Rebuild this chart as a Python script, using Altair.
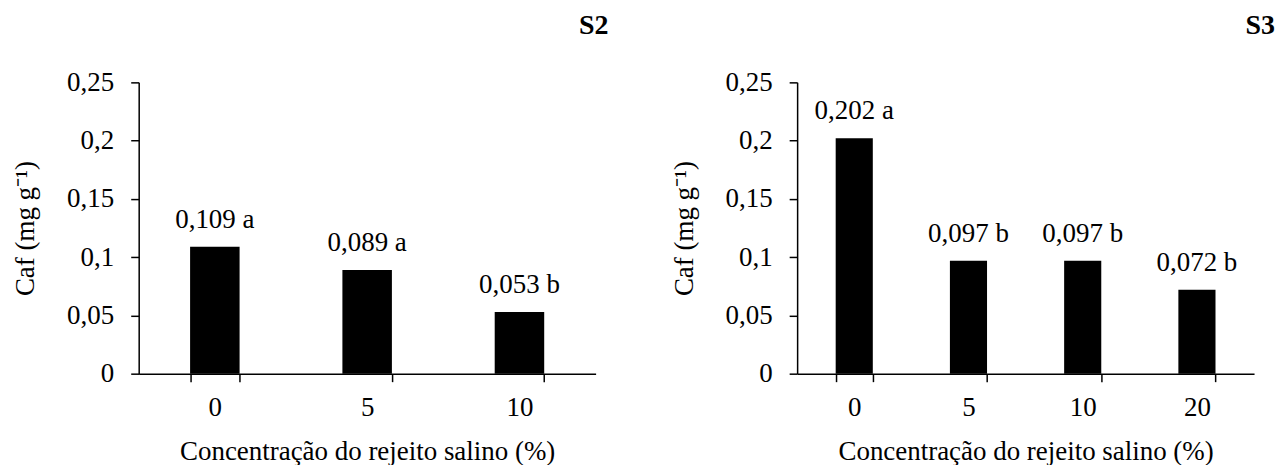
import altair as alt
import pandas as pd

FONT = "Liberation Serif"

s2_cats = ["0", "5", "10"]
s2_vals = [0.109, 0.089, 0.053]
s2_text = ["0,109 a", "0,089 a", "0,053 b"]

s3_cats = ["0", "5", "10", "20"]
s3_vals = [0.202, 0.097, 0.097, 0.072]
s3_text = ["0,202 a", "0,097 b", "0,097 b", "0,072 b"]

y_ticks = [0, 0.05, 0.1, 0.15, 0.2, 0.25]


def panel(cats, vals, texts, name, title_dx):
    df = pd.DataFrame({"c": cats, "v": vals, "t": texts})
    x = alt.X(
        "c:N",
        sort=cats,
        scale=alt.Scale(paddingInner=0.675, paddingOuter=0.3375),
        axis=alt.Axis(
            title="Concentração do rejeito salino (%)",
            labelAngle=0,
            tickBand="extent",
            labelPadding=13,
            titlePadding=18,
        ),
    )
    y = alt.Y(
        "v:Q",
        scale=alt.Scale(domain=[0, 0.25], nice=False),
        axis=alt.Axis(
            values=y_ticks,
            labelExpr="replace(format(datum.value, '.2~f'), '.', ',')",
            title="Caf (mg g⁻¹)",
            grid=False,
            labelPadding=17,
            titlePadding=27,
        ),
    )
    base = alt.Chart(df).encode(x=x, y=y)
    bars = base.mark_bar(color="black")
    labels = base.mark_text(
        baseline="alphabetic", dy=-19, fontSize=27, font=FONT, color="black"
    ).encode(text="t:N")
    return alt.layer(bars, labels).properties(
        width=458,
        height=292,
        title=alt.TitleParams(
            name,
            anchor="end",
            frame="group",
            fontSize=28,
            fontWeight="bold",
            font=FONT,
            color="black",
            dx=title_dx,
            offset=28,
        ),
    )


chart = (
    alt.hconcat(
        panel(s2_cats, s2_vals, s2_text, "S2", 13),
        panel(s3_cats, s3_vals, s3_text, "S3", 21),
        spacing=61,
    )
    .configure(
        font=FONT,
        padding={"left": 3, "top": 4, "right": 0, "bottom": 0},
        background="white",
    )
    .configure_view(stroke=None)
    .configure_axis(
        domainColor="black",
        domainWidth=1.5,
        tickColor="black",
        tickWidth=1.5,
        tickSize=8,
        labelColor="black",
        titleColor="black",
        labelFont=FONT,
        titleFont=FONT,
        labelFontSize=27,
        titleFontSize=27,
        titleFontWeight="normal",
    )
)

chart.save("out.html", embed_options={"renderer": "svg", "actions": False})
